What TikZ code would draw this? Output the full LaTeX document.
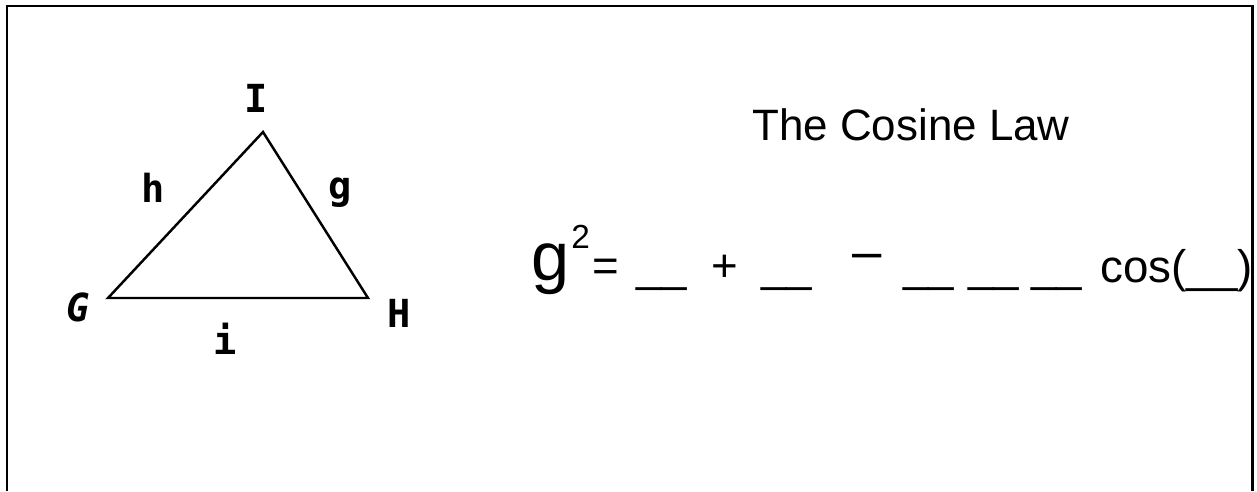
\documentclass[tikz,border=0pt]{standalone}
\usepackage{fontspec}
\setmainfont{Liberation Sans}
\newfontfamily\handfont{DejaVu Sans Mono}
\usepackage{tikz}
\usetikzlibrary{positioning}

\begin{document}
\begin{tikzpicture}[x=0.02cm, y=-0.02cm]
\tikzset{
  vlabel/.style={font=\handfont\bfseries\fontsize{22}{22}\selectfont, inner sep=0pt},
  eqtext/.style={font=\fontsize{26}{26}\selectfont, inner sep=0pt, anchor=base west},
}
\useasboundingbox (0,0) rectangle (1257,491);
% open frame, no bottom edge
\draw[line width=1.7pt] (7,491) -- (7,6) -- (1252,6) -- (1252,491);
% triangle
\coordinate (G) at (108,298);
\coordinate (H) at (368,298);
\coordinate (I) at (263,132);
\draw[line width=1.4pt, line join=miter] (G) -- (I) -- (H) -- cycle;
\node[vlabel] (lblI) at (256,98) {I};
\node[vlabel] (lblG) at (78,307) {\itshape G};
\node[vlabel] (lblH) at (399,313) {H};
\node[vlabel] (lblh) at (153,188) {h};
\node[vlabel] (lblg) at (340,193) {g};
\node[vlabel] (lbli) at (225,339) {i};
% title
\node[font=\fontsize{25}{25}\selectfont, inner sep=0pt, anchor=base] (title) at (911,140) {The Cosine Law};
% equation
\node[eqtext, font=\fontsize{39}{39}\selectfont] (gsq) at (531,280) {g};
\node[eqtext, font=\fontsize{19}{19}\selectfont] (sq) at (571,248) {2};
\node[eqtext] (eq) at (592,281) {=};
\node[eqtext] (b1) at (636,281) {\_\_};
\node[eqtext] (plus) at (711,281) {+};
\node[eqtext] (b2) at (761,281) {\_\_};
\node[font=\fontsize{30}{30}\selectfont, inner sep=0pt] (minus) at (867,262) {–};
\node[eqtext] (b3) at (903,281) {\_\_};
\node[eqtext] (b4) at (968,281) {\_\_};
\node[eqtext] (b5) at (1031,281) {\_\_};
\node[eqtext] (cosf) at (1100,282) {cos(\_\_)};
\end{tikzpicture}
\end{document}
